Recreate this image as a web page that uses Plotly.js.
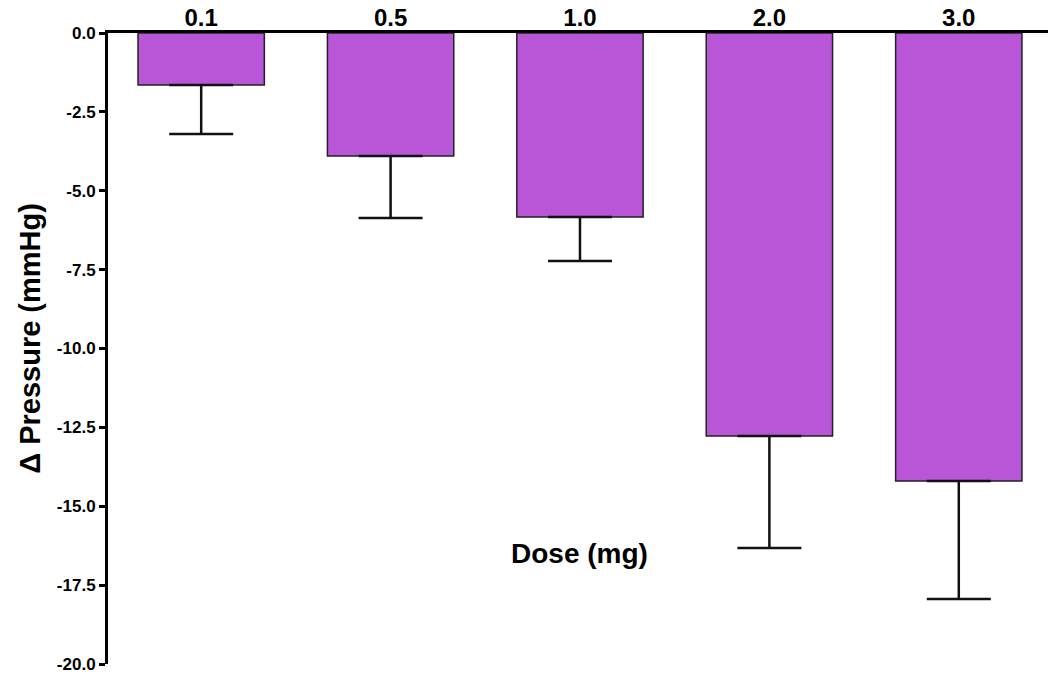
<!DOCTYPE html>
<html>
<head>
<meta charset="utf-8">
<script src="https://cdn.plot.ly/plotly-3.0.1.min.js"></script>
<style>
  html, body { margin: 0; padding: 0; background: #fff; }
  #chart { width: 1048px; height: 675px; }
</style>
</head>
<body>
<div id="chart"></div>
<script>
// Dose groups (mg) and mean change in pressure with SEM
const doses = ['0.1', '0.5', '1.0', '2.0', '3.0'];
const deltaPressure = [-1.65, -3.9, -5.83, -12.77, -14.2];
const semDown = [1.55, 1.96, 1.4, 3.55, 3.74];
const yTickVals = [0, -2.5, -5, -7.5, -10, -12.5, -15, -17.5, -20];
const yTickText = ['0.0', '-2.5', '-5.0', '-7.5', '-10.0', '-12.5', '-15.0', '-17.5', '-20.0'];

const FONT = 'Arial, "Liberation Sans", Helvetica, sans-serif';

const trace = {
  type: 'bar',
  x: doses,
  y: deltaPressure,
  width: 0.667,
  marker: { color: '#B956D8', line: { color: '#222', width: 1.5 } },
  error_y: {
    type: 'data',
    symmetric: false,
    array: doses.map(() => 0),
    arrayminus: semDown,
    color: '#111',
    thickness: 2.5,
    width: 32
  },
  hoverinfo: 'x+y'
};

const layout = {
  width: 1048,
  height: 675,
  margin: { l: 108, r: 0, t: 33, b: 11 },
  paper_bgcolor: '#fff',
  plot_bgcolor: '#fff',
  showlegend: false,
  xaxis: {
    type: 'category',
    side: 'top',
    range: [-0.492, 4.471],
    showline: true,
    linecolor: '#000',
    linewidth: 3,
    ticks: '',
    ticklabelstandoff: -6,
    showgrid: false,
    zeroline: false,
    tickfont: { family: FONT, size: 24, color: '#000', weight: 'bold' }
  },
  yaxis: {
    range: [-20, 0],
    tickvals: yTickVals,
    ticktext: yTickText,
    ticks: 'outside',
    ticklen: 6,
    tickwidth: 3,
    tickcolor: '#000',
    showline: true,
    linecolor: '#000',
    linewidth: 3,
    showgrid: false,
    zeroline: false,
    tickfont: { family: FONT, size: 17, color: '#000', weight: 'bold' }
  },
  annotations: [
    {
      // vertical axis title
      xref: 'paper',
      yref: 'paper',
      x: -0.083,
      y: 0.517,
      xanchor: 'center',
      yanchor: 'middle',
      textangle: -90,
      text: '\u0394 Pressure (mmHg)',
      showarrow: false,
      font: { family: FONT, size: 29, color: '#000', weight: 'bold' }
    },
    {
      x: doses.indexOf('1.0'),
      y: -16.5,
      xref: 'x',
      yref: 'y',
      text: 'Dose (mg)',
      showarrow: false,
      font: { family: FONT, size: 28, color: '#000', weight: 'bold' }
    }
  ]
};

Plotly.newPlot('chart', [trace], layout, { displayModeBar: false, staticPlot: true });
</script>
</body>
</html>
